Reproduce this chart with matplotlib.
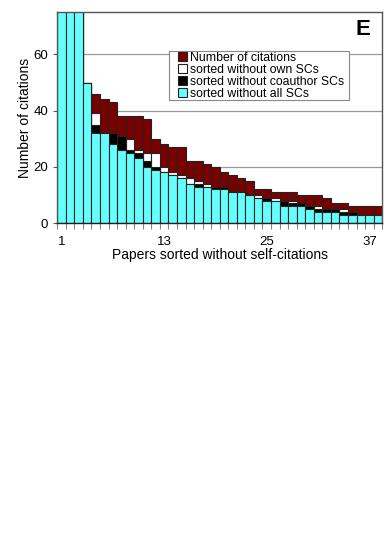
import matplotlib
matplotlib.use("Agg")
import matplotlib.pyplot as plt
import numpy as np
from matplotlib.patches import Patch, Rectangle

plt.rcParams['font.family'] = ['Liberation Sans', 'DejaVu Sans']

papers = list(range(1, 39))
total_citations = [120, 96, 82, 50, 46, 44, 43, 38, 38, 38, 37, 30, 28, 27, 27, 22, 22, 21, 20, 18,
                   17, 16, 15, 12, 12, 11, 11, 11, 10, 10, 10, 9, 7, 7, 6, 6, 6, 6]
without_own = [120, 96, 82, 50, 39, 32, 32, 31, 30, 26, 25, 25, 20, 18, 17, 16, 15, 14, 13, 13,
               11, 11, 10, 10, 9, 9, 8, 8, 7, 6, 6, 5, 5, 5, 4, 3, 3, 3]
without_coauthor = [120, 96, 82, 50, 35, 32, 32, 31, 26, 25, 22, 20, 18, 17, 16, 14, 14, 13, 13, 13,
                    11, 11, 10, 9, 9, 8, 8, 7, 7, 6, 5, 5, 5, 4, 4, 3, 3, 3]
without_all = [120, 96, 82, 50, 32, 32, 28, 26, 25, 23, 20, 19, 18, 17, 16, 14, 13, 13, 12, 12,
               11, 11, 10, 9, 8, 8, 6, 6, 6, 5, 4, 4, 4, 3, 3, 3, 3, 3]
xtick_labels = [1, 13, 25, 37]
yticks = [0, 20, 40, 60]

labels = ["Number of citations", "sorted without own SCs",
          "sorted without coauthor SCs", "sorted without all SCs"]
colors = ["#7a0000", "#ffffff", "#000000", "#66ffff"]

fig = plt.figure(figsize=(3.92, 5.55), dpi=100)
ax = fig.add_axes([0.146, 0.598, 0.829, 0.380])

for series, c in zip([total_citations, without_own, without_coauthor, without_all], colors):
    ax.bar(papers, series, width=1.0, color=c, edgecolor="#222222", linewidth=0.8, zorder=2)

ax.set_xlim(0.5, len(papers) + 0.5)
ax.set_ylim(0, 75)
ax.set_yticks(yticks)
ax.set_xticks(xtick_labels)
ax.set_xticks(np.arange(0.5, len(papers) + 1, 1.0), minor=True)
ax.tick_params(axis='x', which='major', length=0, pad=9, labelsize=9.5)
ax.tick_params(axis='x', which='minor', length=4, width=0.8, color="#888888", direction='out')
ax.tick_params(axis='y', length=3, width=0.8, color="#555555", labelsize=9.5)
ax.yaxis.grid(True, color="#999999", linewidth=0.9, zorder=0)
ax.set_axisbelow(True)
for s in ax.spines.values():
    s.set_color("#555555")
    s.set_linewidth(1.0)
ax.spines['bottom'].set_color("#222222")

ax.set_xlabel("Papers sorted without self-citations", fontsize=10, labelpad=0)
ax.set_ylabel("Number of citations", fontsize=10, labelpad=1)

# legend frame drawn separately for exact placement
ax.add_patch(Rectangle((0.345, 0.584), 0.552, 0.234, transform=ax.transAxes,
                       facecolor="white", edgecolor="#888888", linewidth=0.8, zorder=5))
handles = [Patch(facecolor=c, edgecolor="#222222", linewidth=0.8) for c in colors]
leg = ax.legend(handles, labels, loc='upper left', bbox_to_anchor=(0.372, 0.812),
                fontsize=8.8, frameon=False,
                handlelength=0.75, handleheight=0.75, handletextpad=0.25,
                labelspacing=0.0, borderpad=0, borderaxespad=0)
leg.set_zorder(6)

ax.text(0.965, 0.968, "E", transform=ax.transAxes, fontsize=16, fontweight='bold',
        ha='right', va='top', zorder=6)

fig.savefig("out.png", dpi=100)
